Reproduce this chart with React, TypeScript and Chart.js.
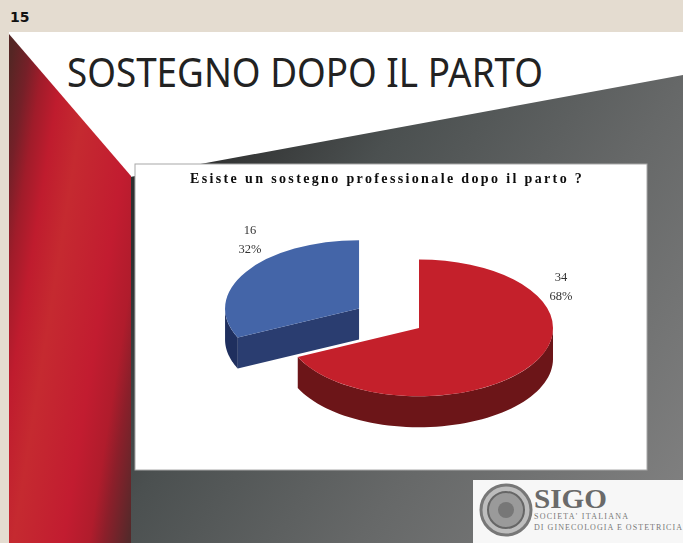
import React, { useEffect, useRef } from "react";
import { Chart, registerables } from "chart.js";

Chart.register(...registerables);

// Survey answers
const sliceCounts = [16, 34];
const slicePercents = ["32%", "68%"];
const sliceNames = ["16", "34"];

// Slice styling: top face, curved wall, straight cut wall
const topColors = ["#4465a8", "#c4202b"];
const wallColors = ["#1f2f5e", "#6c1518"];
const cutColors = ["#2a3d70", "#6c1518"];

// How far each slice is pulled away from the pie centre
const sliceShift = [71, 0];
// Label placement relative to each slice's apex (dx, dy of the first line)
const labelOffsets = [
  [-109, -78],
  [142, -50],
];

const chartTitle = "Esiste un sostegno professionale dopo il parto ?";
const squash = 0.51;
const depth = 31;
const titleTracking = "2.36px";
const DEG = Math.PI / 180;

const pie3d = {
  id: "pie3d",
  afterDatasetUpdate(chart: any, args: any) {
    args.meta.data.forEach((arc: any, i: number) => {
      const mid = (arc.startAngle + arc.endAngle) / 2;
      arc.x += Math.cos(mid) * sliceShift[i];
      arc.y += Math.sin(mid) * sliceShift[i];
    });
  },
  beforeDraw(chart: any) {
    chart.ctx.letterSpacing = titleTracking;
  },
  beforeDatasetsDraw(chart: any) {
    chart.ctx.letterSpacing = "0px";
  },
  beforeDatasetDraw(chart: any, args: any) {
    const { ctx, chartArea } = chart;
    const cy = (chartArea.top + chartArea.bottom) / 2;
    const at = (arc: any, t: number, drop = 0) => [
      arc.x + Math.cos(t) * arc.outerRadius,
      cy + (arc.y - cy + Math.sin(t) * arc.outerRadius) * squash + drop,
    ];
    const apex = (arc: any, drop = 0) => [arc.x, cy + (arc.y - cy) * squash + drop];

    args.meta.data.forEach((arc: any, i: number) => {
      // Straight wall on the side facing the viewer
      if (Math.cos(arc.startAngle) < -0.01) {
        const p = at(arc, arc.startAngle);
        const a = apex(arc);
        ctx.fillStyle = cutColors[i];
        ctx.beginPath();
        ctx.moveTo(a[0], a[1]);
        ctx.lineTo(p[0], p[1]);
        ctx.lineTo(p[0], p[1] + depth);
        ctx.lineTo(a[0], a[1] + depth);
        ctx.closePath();
        ctx.fill();
      }
      // Curved outer wall over the front half of the ellipse
      for (const base of [-360, 0, 360]) {
        const from = Math.max(arc.startAngle, base * DEG);
        const to = Math.min(arc.endAngle, (base + 180) * DEG);
        if (to <= from) continue;
        ctx.fillStyle = wallColors[i];
        ctx.beginPath();
        const steps = 60;
        for (let s = 0; s <= steps; s++) {
          const p = at(arc, from + ((to - from) * s) / steps);
          if (s === 0) ctx.moveTo(p[0], p[1]);
          else ctx.lineTo(p[0], p[1]);
        }
        for (let s = steps; s >= 0; s--) {
          const p = at(arc, from + ((to - from) * s) / steps, depth);
          ctx.lineTo(p[0], p[1]);
        }
        ctx.closePath();
        ctx.fill();
      }
    });

    // Top faces are drawn by the arc elements in the flattened space
    const cx = (chartArea.left + chartArea.right) / 2;
    ctx.save();
    ctx.translate(cx, cy);
    ctx.scale(1, squash);
    ctx.translate(-cx, -cy);
  },
  afterDatasetDraw(chart: any) {
    chart.ctx.restore();
  },
  afterDraw(chart: any) {
    const { ctx, chartArea } = chart;
    const cy = (chartArea.top + chartArea.bottom) / 2;
    ctx.save();
    ctx.font = '12.5px "Liberation Serif"';
    ctx.fillStyle = "#333333";
    ctx.textAlign = "center";
    ctx.textBaseline = "middle";
    chart.getDatasetMeta(0).data.forEach((arc: any, i: number) => {
      const x = arc.x + labelOffsets[i][0];
      const y = cy + (arc.y - cy) * squash + labelOffsets[i][1];
      ctx.fillText(String(sliceCounts[i]), x, y);
      ctx.fillText(slicePercents[i], x, y + 19);
    });
    ctx.restore();
  },
};

function PieChart() {
  const ref = useRef<HTMLCanvasElement>(null);
  useEffect(() => {
    const chart = new Chart(ref.current as HTMLCanvasElement, {
      type: "pie",
      data: {
        labels: sliceNames,
        datasets: [
          {
            data: sliceCounts,
            backgroundColor: topColors,
            borderWidth: 0,
            clip: false,
          } as any,
        ],
      },
      options: {
        responsive: false,
        animation: false,
        rotation: 244.8,
        radius: 134,
        layout: { padding: { left: 64, right: 8, top: 0, bottom: 2 } },
        plugins: {
          legend: { display: false },
          tooltip: { enabled: false },
          title: {
            display: true,
            text: chartTitle,
            align: "start",
            color: "#0d0d0d",
            font: { family: '"Liberation Serif"', size: 14, weight: "bold" },
            padding: { top: 7, bottom: 0 },
          },
        },
      } as any,
      plugins: [pie3d as any],
    });
    return () => chart.destroy();
  }, []);
  return (
    <canvas
      ref={ref}
      width={530}
      height={306}
      style={{ position: "absolute", left: 126, top: 164, width: 530, height: 306 }}
    />
  );
}

function Backdrop() {
  return (
    <svg width={683} height={543} style={{ position: "absolute", left: 0, top: 0 }}>
      <defs>
        <linearGradient id="redBase" gradientUnits="userSpaceOnUse" x1="19.5" y1="3.1" x2="209.6" y2="33.5">
          <stop offset="0" stopColor="#552624" />
          <stop offset="0.09" stopColor="#752028" />
          <stop offset="0.17" stopColor="#a01c2a" />
          <stop offset="0.27" stopColor="#bf1c2e" />
          <stop offset="0.41" stopColor="#c52a30" />
          <stop offset="0.667" stopColor="#c21c30" />
          <stop offset="0.8" stopColor="#b01c2c" />
          <stop offset="0.872" stopColor="#8c1f2a" />
          <stop offset="1" stopColor="#55292a" />
        </linearGradient>
        <linearGradient id="greyWedge" gradientUnits="userSpaceOnUse" x1="200" y1="160" x2="683" y2="500">
          <stop offset="0" stopColor="#2f3030" />
          <stop offset="0.24" stopColor="#4b5050" />
          <stop offset="0.59" stopColor="#666868" />
          <stop offset="1" stopColor="#808080" />
        </linearGradient>
      </defs>
      <rect x={0} y={0} width={683} height={543} fill="#e4dcd0" />
      <rect x={9} y={32} width={674} height={511} fill="#ffffff" />
      <polygon points="130,177 683,75 683,543 130,543" fill="url(#greyWedge)" />
      <polygon points="9,34 131,176 131,543 9,543" fill="url(#redBase)" />
      <rect x={135} y={164} width={512} height={306} fill="#ffffff" stroke="#a8a8a8" strokeWidth={1} />

      <text x={10} y={22} fontFamily="DejaVu Sans" fontWeight="bold" fontSize={14} fill="#111111">
        15
      </text>
      <text
        x={67}
        y={87}
        fontFamily="Noto Sans"
        fontSize={40}
        fill="#222222"
        textLength={476}
        lengthAdjust="spacingAndGlyphs"
      >
        SOSTEGNO DOPO IL PARTO
      </text>

      <rect x={473} y={480} width={210} height={63} fill="#f7f7f7" />
      <circle cx={506} cy={510} r={25} fill="#bdbdbd" stroke="#777777" strokeWidth={3} />
      <circle cx={506} cy={510} r={18} fill="#9a9a9a" stroke="#666666" strokeWidth={2} />
      <circle cx={506} cy={510} r={8} fill="#777777" />
      <text
        x={534}
        y={508}
        fontFamily="Liberation Serif"
        fontWeight="bold"
        fontSize={28}
        fill="#6a6a6a"
        textLength={73}
        lengthAdjust="spacingAndGlyphs"
      >
        SIGO
      </text>
      <text x={534} y={519} fontFamily="Liberation Serif" fontSize={8} fill="#777777" textLength={94}>
        SOCIETA' ITALIANA
      </text>
      <text x={534} y={530} fontFamily="Liberation Serif" fontSize={8} fill="#777777" textLength={148}>
        DI GINECOLOGIA E OSTETRICIA
      </text>
    </svg>
  );
}

export default function App() {
  useEffect(() => {
    document.body.style.margin = "0";
  }, []);
  return (
    <div style={{ position: "fixed", left: 0, top: 0, width: 683, height: 543, overflow: "hidden" }}>
      <Backdrop />
      <PieChart />
    </div>
  );
}
